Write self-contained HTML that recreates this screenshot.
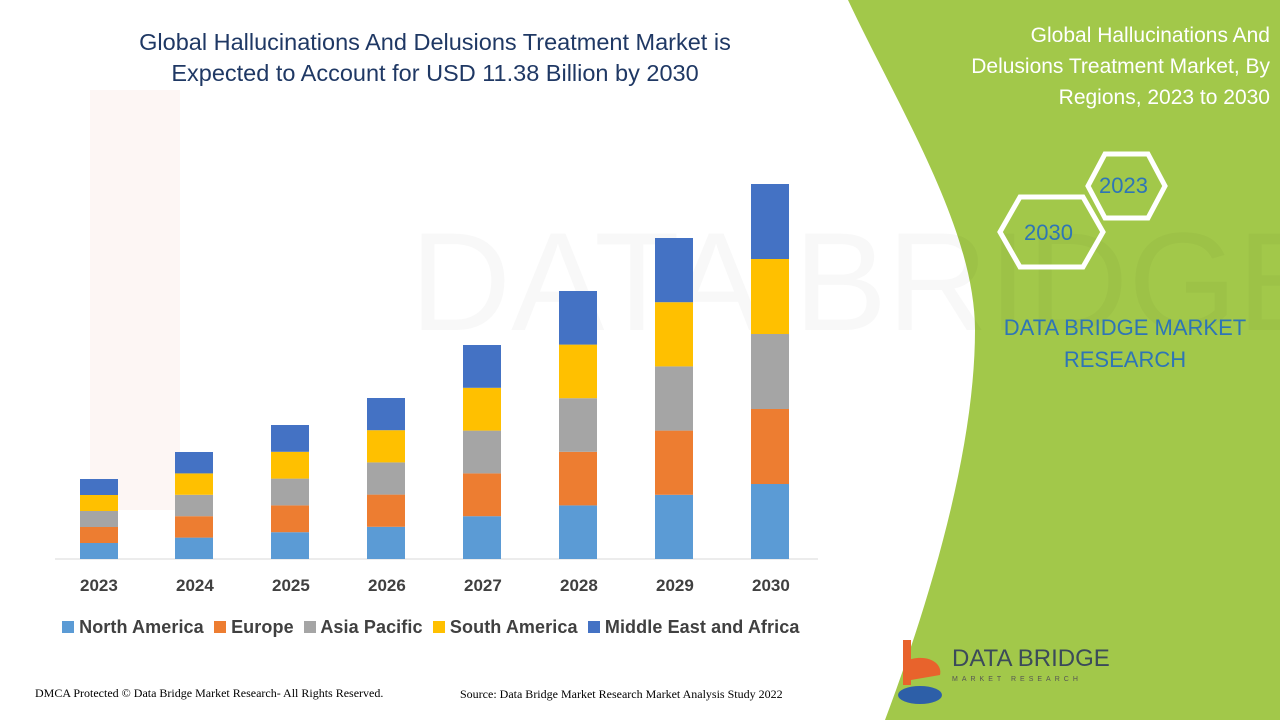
<!DOCTYPE html>
<html><head><meta charset="utf-8"><style>
body{margin:0;width:1280px;height:720px;overflow:hidden;background:#fff;font-family:"Liberation Sans",sans-serif;position:relative}
.t{position:absolute;white-space:nowrap}
</style></head><body>
<svg width="1280" height="720" style="position:absolute;left:0;top:0">
<path d="M848,0 L1280,0 L1280,720 L885,720 C930,600 975,450 975,330 C975,230 900,110 848,0 Z" fill="#a2c84a"/>
<g opacity="0.05" fill="#e05020"><rect x="90" y="90" width="90" height="420"/></g>
<g font-family="Liberation Sans" font-size="140" fill="#000" opacity="0.025"><text x="410" y="330">DATA BRIDGE</text></g>
<line x1="55" y1="559" x2="818" y2="559" stroke="#d9d9d9" stroke-width="1"/>
<g>
<rect x="80" y="543" width="38" height="16" fill="#5b9bd5"/><rect x="80" y="527" width="38" height="16" fill="#ed7d31"/><rect x="80" y="511" width="38" height="16" fill="#a5a5a5"/><rect x="80" y="495" width="38" height="16" fill="#ffc000"/><rect x="80" y="479" width="38" height="16" fill="#4472c4"/>
<rect x="175" y="537.6" width="38" height="21.4" fill="#5b9bd5"/><rect x="175" y="516.2" width="38" height="21.4" fill="#ed7d31"/><rect x="175" y="494.8" width="38" height="21.4" fill="#a5a5a5"/><rect x="175" y="473.4" width="38" height="21.4" fill="#ffc000"/><rect x="175" y="452" width="38" height="21.4" fill="#4472c4"/>
<rect x="271" y="532.2" width="38" height="26.8" fill="#5b9bd5"/><rect x="271" y="505.4" width="38" height="26.8" fill="#ed7d31"/><rect x="271" y="478.6" width="38" height="26.8" fill="#a5a5a5"/><rect x="271" y="451.8" width="38" height="26.8" fill="#ffc000"/><rect x="271" y="425" width="38" height="26.8" fill="#4472c4"/>
<rect x="367" y="526.8" width="38" height="32.2" fill="#5b9bd5"/><rect x="367" y="494.6" width="38" height="32.2" fill="#ed7d31"/><rect x="367" y="462.4" width="38" height="32.2" fill="#a5a5a5"/><rect x="367" y="430.2" width="38" height="32.2" fill="#ffc000"/><rect x="367" y="398" width="38" height="32.2" fill="#4472c4"/>
<rect x="463" y="516.2" width="38" height="42.8" fill="#5b9bd5"/><rect x="463" y="473.4" width="38" height="42.8" fill="#ed7d31"/><rect x="463" y="430.6" width="38" height="42.8" fill="#a5a5a5"/><rect x="463" y="387.8" width="38" height="42.8" fill="#ffc000"/><rect x="463" y="345" width="38" height="42.8" fill="#4472c4"/>
<rect x="559" y="505.4" width="38" height="53.6" fill="#5b9bd5"/><rect x="559" y="451.8" width="38" height="53.6" fill="#ed7d31"/><rect x="559" y="398.2" width="38" height="53.6" fill="#a5a5a5"/><rect x="559" y="344.6" width="38" height="53.6" fill="#ffc000"/><rect x="559" y="291" width="38" height="53.6" fill="#4472c4"/>
<rect x="655" y="494.8" width="38" height="64.2" fill="#5b9bd5"/><rect x="655" y="430.6" width="38" height="64.2" fill="#ed7d31"/><rect x="655" y="366.4" width="38" height="64.2" fill="#a5a5a5"/><rect x="655" y="302.2" width="38" height="64.2" fill="#ffc000"/><rect x="655" y="238" width="38" height="64.2" fill="#4472c4"/>
<rect x="751" y="484" width="38" height="75" fill="#5b9bd5"/><rect x="751" y="409" width="38" height="75" fill="#ed7d31"/><rect x="751" y="334" width="38" height="75" fill="#a5a5a5"/><rect x="751" y="259" width="38" height="75" fill="#ffc000"/><rect x="751" y="184" width="38" height="75" fill="#4472c4"/>
</g>
<polygon points="1000,232 1020,197 1083,197 1103,232 1083,267 1020,267" fill="none" stroke="#fff" stroke-width="5"/>
<polygon points="1088,186 1105,154 1148,154 1165,186 1148,218 1105,218" fill="none" stroke="#fff" stroke-width="5"/>
<g transform="translate(895,640)"><rect x="8" y="0" width="8" height="45" fill="#e8632c"/><path d="M8,22 C30,12 48,22 45,35 L16,40 Z" fill="#e8632c"/><ellipse cx="25" cy="55" rx="22" ry="9" fill="#2d5fa8"/></g>
</svg>
<div class="t" style="left:30px;top:27px;width:810px;text-align:center;font-size:23.5px;line-height:31px;color:#1f3864">Global Hallucinations And Delusions Treatment Market is<br>Expected to Account for USD 11.38 Billion by 2030</div>
<div class="t" style="left:74px;top:576px;width:760px;font-size:17px;font-weight:bold;color:#404040">
<span style="position:absolute;left:6px">2023</span><span style="position:absolute;left:102px">2024</span><span style="position:absolute;left:198px">2025</span><span style="position:absolute;left:294px">2026</span><span style="position:absolute;left:390px">2027</span><span style="position:absolute;left:486px">2028</span><span style="position:absolute;left:582px">2029</span><span style="position:absolute;left:678px">2030</span></div>
<div class="t" style="left:62px;top:617px;font-size:18px;font-weight:bold;color:#404040;letter-spacing:0.1px">
<span style="display:inline-block;width:12px;height:12px;background:#5b9bd5"></span> North America &nbsp;<span style="display:inline-block;width:12px;height:12px;background:#ed7d31"></span> Europe &nbsp;<span style="display:inline-block;width:12px;height:12px;background:#a5a5a5"></span> Asia Pacific &nbsp;<span style="display:inline-block;width:12px;height:12px;background:#ffc000"></span> South America &nbsp;<span style="display:inline-block;width:12px;height:12px;background:#4472c4"></span> Middle East and Africa</div>
<div class="t" style="left:35px;top:686px;font-size:12px;font-family:'Liberation Serif',serif">DMCA Protected © Data Bridge Market Research- All Rights Reserved.</div>
<div class="t" style="left:460px;top:687px;font-size:12px;font-family:'Liberation Serif',serif">Source: Data Bridge Market Research Market Analysis Study 2022</div>
<div class="t" style="right:10px;top:20px;text-align:right;font-size:21px;line-height:31px;color:#fff">Global Hallucinations And<br>Delusions Treatment Market, By<br>Regions, 2023 to 2030</div>
<div class="t" style="left:1099px;top:173px;font-size:22px;color:#2e75b6">2023</div>
<div class="t" style="left:1024px;top:220px;font-size:22px;color:#2e75b6">2030</div>
<div class="t" style="left:995px;top:312px;width:260px;text-align:center;font-size:22px;line-height:32px;color:#2e75b6;white-space:normal">DATA BRIDGE MARKET RESEARCH</div>
<div class="t" style="left:952px;top:645px;font-size:24px;color:#3b4a5a">DATA BRIDGE</div>
<div class="t" style="left:952px;top:676px;font-size:7px;letter-spacing:4px;color:#555">MARKET RESEARCH</div>
</body></html>
